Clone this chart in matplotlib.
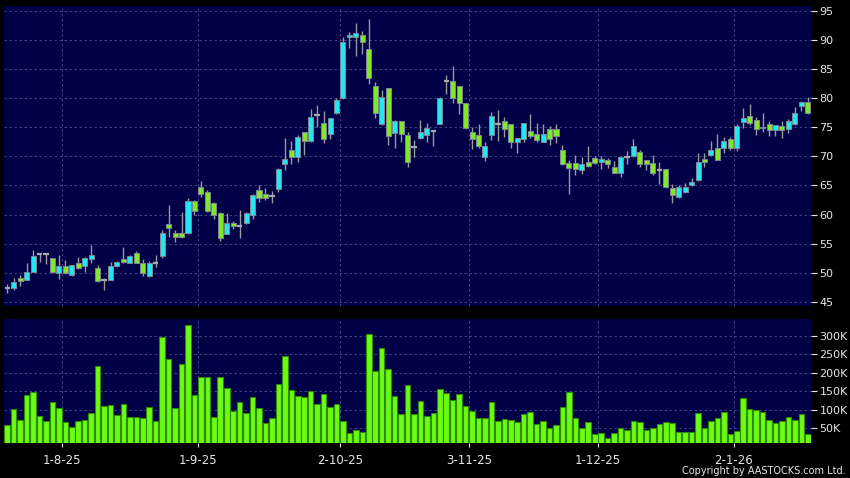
import matplotlib
matplotlib.use("Agg")
import matplotlib.pyplot as plt
from matplotlib.ticker import FuncFormatter
import numpy as np
import pandas as pd

# trading days shown (HK calendar)
holidays = ["2025-10-01", "2025-10-07", "2025-10-29", "2025-12-25", "2025-12-26", "2026-01-01"]
dates = pd.bdate_range("2025-07-22", "2026-01-20")
dates = dates[~dates.isin(pd.to_datetime(holidays))]

opens = [47.4, 47.4, 49.1, 48.8, 50.2, 53.2, 53.2, 52.6, 49.95, 51.1,
         49.65, 51.6, 51.2, 52.4, 50.9, 48.8, 48.8, 51.2, 52.4, 51.7,
         53.4, 51.7, 49.4, 51.7, 52.8, 58.4, 56.9, 56.9, 56.9, 62.3,
         64.7, 63.8, 61.9, 60.2, 56.7, 58.6, 58.1, 58.6, 60.0, 64.2,
         63.6, 63.2, 64.4, 68.6, 71.0, 69.8, 74.1, 72.7, 77.1, 75.8,
         73.9, 77.5, 80.0, 90.4, 90.4, 90.9, 88.4, 82.0, 75.5, 81.8,
         74.0, 76.0, 73.6, 71.6, 73.2, 73.7, 74.3, 75.6, 82.9, 82.9,
         82.0, 79.2, 74.1, 73.6, 69.9, 73.6, 75.6, 76.0, 75.5, 72.5,
         72.9, 74.3, 73.8, 72.5, 74.7, 74.7, 71.0, 68.9, 68.9, 67.7,
         69.1, 69.7, 69.0, 69.3, 68.2, 67.2, 69.9, 70.1, 70.7, 69.3,
         68.9, 67.6, 67.9, 64.5, 63.0, 63.9, 65.0, 66.0, 69.5, 70.3,
         71.5, 71.5, 72.9, 71.4, 75.9, 77.0, 76.3, 74.8, 75.5, 74.5,
         75.2, 74.7, 75.5, 78.7, 79.3]
highs = [48.1, 49.1, 49.7, 51.6, 53.9, 53.4, 53.3, 52.6, 53.0, 52.2,
         51.4, 52.7, 52.7, 54.7, 51.3, 49.1, 51.8, 52.1, 54.4, 53.1,
         53.8, 52.4, 52.1, 53.0, 57.3, 61.7, 57.3, 60.4, 62.8, 62.5,
         65.7, 64.2, 62.2, 60.5, 60.2, 58.9, 60.7, 60.5, 63.6, 65.1,
         64.5, 64.1, 68.0, 73.2, 72.6, 73.6, 74.2, 78.2, 78.8, 77.8,
         76.6, 80.0, 90.5, 91.4, 92.8, 91.5, 93.6, 82.7, 81.4, 81.8,
         76.2, 76.0, 74.2, 72.8, 76.3, 75.8, 74.5, 80.2, 83.9, 85.5,
         82.0, 79.2, 75.0, 75.5, 72.5, 77.6, 77.9, 76.7, 75.5, 73.2,
         75.7, 77.2, 75.7, 75.6, 75.2, 75.5, 71.9, 69.4, 70.2, 69.9,
         71.8, 70.0, 70.0, 69.7, 69.2, 69.9, 70.9, 72.9, 71.1, 69.3,
         70.2, 69.0, 67.9, 65.2, 65.1, 65.5, 66.2, 70.5, 70.5, 72.6,
         73.8, 73.3, 73.3, 75.6, 78.3, 79.0, 76.7, 77.4, 76.0, 75.3,
         76.1, 76.4, 78.4, 79.5, 80.2]
lows = [46.6, 47.1, 47.8, 48.7, 50.1, 51.8, 51.5, 50.0, 49.0, 49.8,
        49.5, 50.7, 50.2, 51.7, 48.5, 47.1, 48.7, 51.0, 51.7, 51.6,
        51.6, 49.5, 49.25, 51.0, 52.6, 56.1, 55.3, 55.9, 56.7, 59.9,
        63.0, 60.5, 59.3, 55.4, 56.6, 57.6, 55.9, 58.4, 59.3, 62.2,
        62.5, 62.0, 63.9, 67.6, 68.6, 69.0, 70.2, 72.5, 75.1, 72.2,
        73.0, 77.3, 79.9, 88.6, 87.3, 87.5, 82.4, 76.6, 75.3, 71.9,
        71.4, 72.5, 68.2, 69.9, 72.9, 72.5, 71.8, 75.5, 80.7, 79.1,
        77.2, 74.7, 71.2, 71.4, 69.2, 72.8, 72.6, 73.3, 71.4, 70.5,
        72.5, 73.1, 72.5, 72.4, 72.0, 72.3, 68.5, 63.6, 66.8, 67.0,
        68.2, 68.6, 67.8, 68.0, 67.1, 66.4, 68.7, 69.9, 68.2, 67.6,
        66.8, 65.2, 64.5, 61.9, 62.9, 63.7, 64.9, 65.8, 68.2, 70.2,
        69.3, 70.6, 71.1, 70.9, 74.9, 75.4, 73.7, 74.1, 73.4, 73.4,
        73.2, 74.0, 75.3, 77.7, 77.3]
closes = [47.4, 48.5, 48.6, 50.2, 52.8, 53.2, 53.2, 50.1, 51.1, 49.95,
          51.4, 50.9, 52.6, 53.0, 48.6, 48.8, 51.1, 51.9, 51.8, 52.8,
          51.7, 50.0, 51.7, 51.7, 56.9, 57.7, 56.2, 56.2, 62.3, 60.6,
          63.6, 60.6, 60.0, 55.9, 58.6, 58.0, 58.1, 60.3, 63.3, 62.8,
          62.9, 63.2, 67.8, 69.5, 69.8, 73.3, 72.6, 76.7, 77.1, 72.9,
          76.5, 79.6, 89.6, 90.9, 91.1, 89.6, 83.5, 77.5, 80.1, 73.4,
          76.0, 73.9, 69.1, 71.6, 74.1, 74.8, 74.3, 80.0, 82.9, 80.0,
          79.2, 74.9, 72.9, 71.8, 71.7, 76.9, 75.6, 74.6, 72.5, 73.2,
          75.7, 73.4, 72.8, 73.9, 72.9, 73.4, 68.7, 68.0, 67.9, 68.7,
          68.3, 68.8, 69.5, 68.6, 67.2, 69.9, 69.9, 71.7, 68.7, 68.6,
          67.1, 67.6, 64.7, 63.4, 64.7, 64.7, 65.6, 69.0, 69.0, 71.0,
          69.4, 72.6, 71.4, 75.2, 76.6, 75.7, 74.7, 75.0, 74.5, 75.3,
          74.5, 76.0, 77.4, 79.3, 77.5]
volumes_k = [59, 102, 74, 140, 147, 83, 70, 120, 106, 67,
             55, 71, 73, 91, 219, 110, 113, 85, 116, 81,
             81, 79, 107, 69, 297, 236, 106, 223, 329, 139,
             190, 190, 82, 188, 159, 98, 121, 91, 136, 105,
             66, 78, 171, 245, 153, 138, 136, 151, 116, 143,
             108, 116, 69, 37, 45, 40, 304, 205, 267, 211,
             137, 90, 167, 88, 123, 84, 92, 157, 145, 126,
             143, 110, 98, 77, 78, 120, 70, 76, 72, 68,
             89, 94, 63, 71, 51, 60, 109, 149, 79, 50,
             68, 36, 38, 25, 37, 52, 47, 71, 67, 46,
             51, 61, 68, 66, 41, 41, 41, 92, 52, 71,
             79, 95, 35, 42, 132, 103, 100, 94, 72, 65,
             71, 81, 74, 90, 36]

price_ticks = list(range(45, 100, 5))
volume_ticks_k = [50, 100, 150, 200, 250, 300]

BG = "#000046"
GRID = "#4e4e8c"
UP = "#22e6f2"
DOWN = "#80e826"
FLAT = "#a8a8a8"
WICK = "#9a9a9a"
VOL = "#6cfb14"
VOL_EDGE = "#2e8a00"
TEXT = "#e6e6e6"

o = np.array(opens)
h = np.array(highs)
l = np.array(lows)
c = np.array(closes)
v = np.array(volumes_k) * 1000
x = np.arange(len(dates))
assert len(x) == len(o) == len(v)

# first trading day of each month gets a label
month_idx = [i for i in range(1, len(dates)) if dates[i].month != dates[i - 1].month]
month_labels = ["%d-%d-%s" % (dates[i].day, dates[i].month, dates[i].strftime("%y")) for i in month_idx]
month_pos = [i + 0.5 for i in month_idx]

fig = plt.figure(figsize=(8.5, 4.78), dpi=100, facecolor="black")
ax = fig.add_axes([4 / 850, 1 - 306 / 478, 807 / 850, 300 / 478], facecolor=BG)
axv = fig.add_axes([4 / 850, 1 - 443.3 / 478, 807 / 850, 124.3 / 478], facecolor=BG)

dash = (0, (3, 3))
for a in (ax, axv):
    for s in a.spines.values():
        s.set_visible(False)
    a.set_xlim(-0.5, len(x) - 0.5)
    a.set_xticks(month_pos)
    a.grid(True, color=GRID, linestyle=dash, linewidth=0.6)
    a.set_axisbelow(True)
    a.yaxis.tick_right()
    a.tick_params(axis="y", colors=TEXT, length=4, width=0.8, pad=2, labelsize=8)

# candles
up = c > o
down = c < o
flat = c == o
ax.vlines(x, l, h, color=WICK, linewidth=1, zorder=2)
ax.bar(x[up], (c - o)[up], bottom=o[up], width=0.78, color=UP,
       edgecolor="#7d8794", linewidth=0.7, zorder=3)
ax.bar(x[down], (o - c)[down], bottom=c[down], width=0.78, color=DOWN,
       edgecolor="#7d8794", linewidth=0.7, zorder=3)
ax.hlines(o[flat], x[flat] - 0.42, x[flat] + 0.42, color=FLAT, linewidth=1.6, zorder=3)

ax.set_ylim(44.3, 95.8)
ax.set_yticks(price_ticks)
ax.tick_params(axis="x", length=0, labelbottom=False)

# volume
axv.bar(x, v, width=0.86, color=VOL, edgecolor=VOL_EDGE, linewidth=0.8, zorder=3)
axv.set_ylim(10e3, 345e3)
axv.set_yticks([t * 1000 for t in volume_ticks_k])
axv.yaxis.set_major_formatter(FuncFormatter(lambda val, pos: "%dK" % round(val / 1000)))
axv.set_xticklabels(month_labels)
axv.tick_params(axis="x", colors=TEXT, length=3, width=0.8, pad=4.5, labelsize=8.5)

fig.text(845.5 / 850, 1 - 471.5 / 478, "Copyright by AASTOCKS.com Ltd.",
         ha="right", va="center", fontsize=7, color=TEXT)

fig.savefig("out.png", dpi=100, facecolor="black")
